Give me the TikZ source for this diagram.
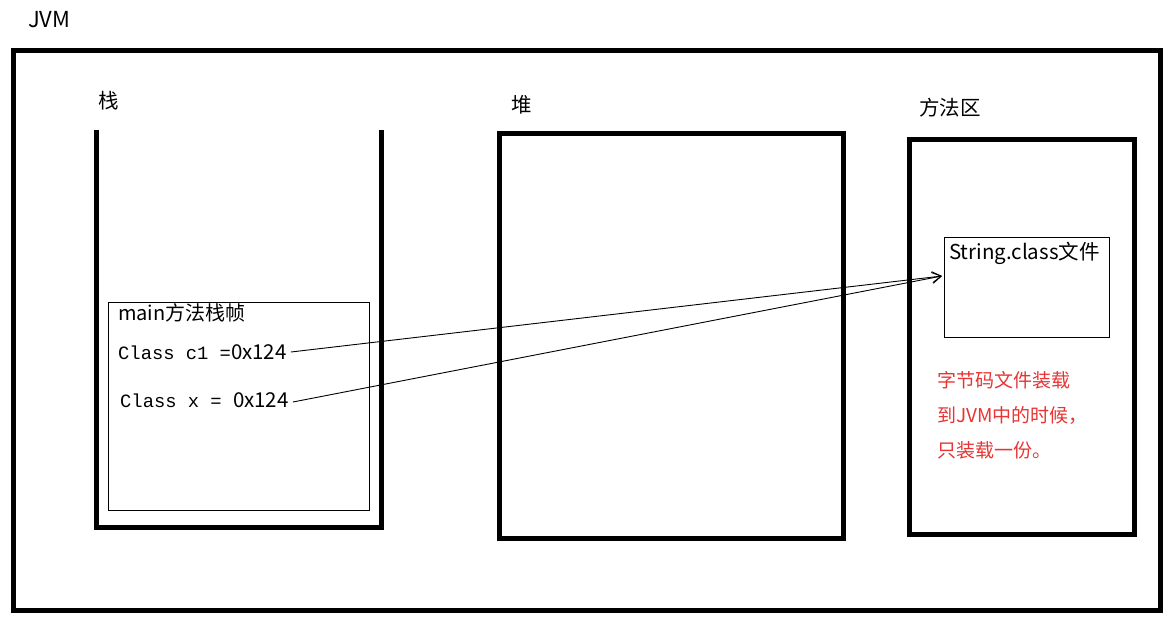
\documentclass[tikz,border=0pt]{standalone}
\usepackage{fontspec}
\setmainfont{Noto Sans CJK SC}
\newfontfamily\cjk{Noto Sans CJK SC}
\newfontfamily\monof{Liberation Mono}
\usetikzlibrary{arrows.meta}
\definecolor{redtxt}{RGB}{232,52,52}
\begin{document}
\begin{tikzpicture}[x=1pt,y=-1pt,
  thickbox/.style={draw=black,line width=5pt},
  thinbox/.style={draw=black,line width=1pt},
  lbl/.style={anchor=west,inner sep=0pt,font=\cjk\fontsize{20.5}{22}\selectfont},
  codetxt/.style={anchor=west,inner sep=0pt,font=\cjk\fontsize{20.5}{22}\selectfont},
  redline/.style={anchor=west,inner sep=0pt,text=redtxt,font=\cjk\fontsize{19}{21}\selectfont},
  ptr/.style={draw=black,line width=0.9pt,-{Straight Barb[length=9pt,width=11pt,line width=0.9pt]}}
]
\useasboundingbox (0,0) rectangle (1173,624);
\fill[white] (0,0) rectangle (1173,624);
% outer JVM frame
\node[lbl,font=\cjk\fontsize{22}{24}\selectfont] (jvmlbl) at (28,20) {JVM};
\draw[thickbox] (13,50) rectangle (1160,610);
% stack
\node[lbl] (stacklbl) at (98,101) {栈};
\draw[thickbox] (96,130) -- (96,527) -- (381,527) -- (381,130);
\draw[thinbox] (108,302) rectangle (369,510);
\node[lbl,font=\cjk\fontsize{20}{22}\selectfont] (framelbl) at (118,313) {main方法栈帧};
\node[codetxt] (c1) at (118,352) {{\monof\fontsize{18.8}{21}\selectfont Class c1 =}0x124};
\node[codetxt] (cx) at (120,400) {{\monof\fontsize{18.8}{21}\selectfont Class x = }0x124};
% heap
\node[lbl] (heaplbl) at (511,105) {堆};
\draw[thickbox] (499,133) rectangle (843,538);
% method area
\node[lbl] (malbl) at (919,108) {方法区};
\draw[thickbox] (909,139) rectangle (1134,534);
\draw[thinbox] (944,237) rectangle (1109,337);
\node[lbl,font=\cjk\fontsize{20.5}{22}\selectfont] (strlbl) at (949,253) {String.class文件};
\coordinate (tip) at (942,276);
% red note
\node[redline] (r1) at (937,380) {字节码文件装载};
\node[redline] (r2) at (937,415) {到JVM中的时候，};
\node[redline] (r3) at (937,450) {只装载一份。};
% pointers
\draw[ptr] (c1.east) ++(4,0) -- (tip);
\draw[ptr] (cx.east) ++(4,2) -- (tip);
\end{tikzpicture}
\end{document}
